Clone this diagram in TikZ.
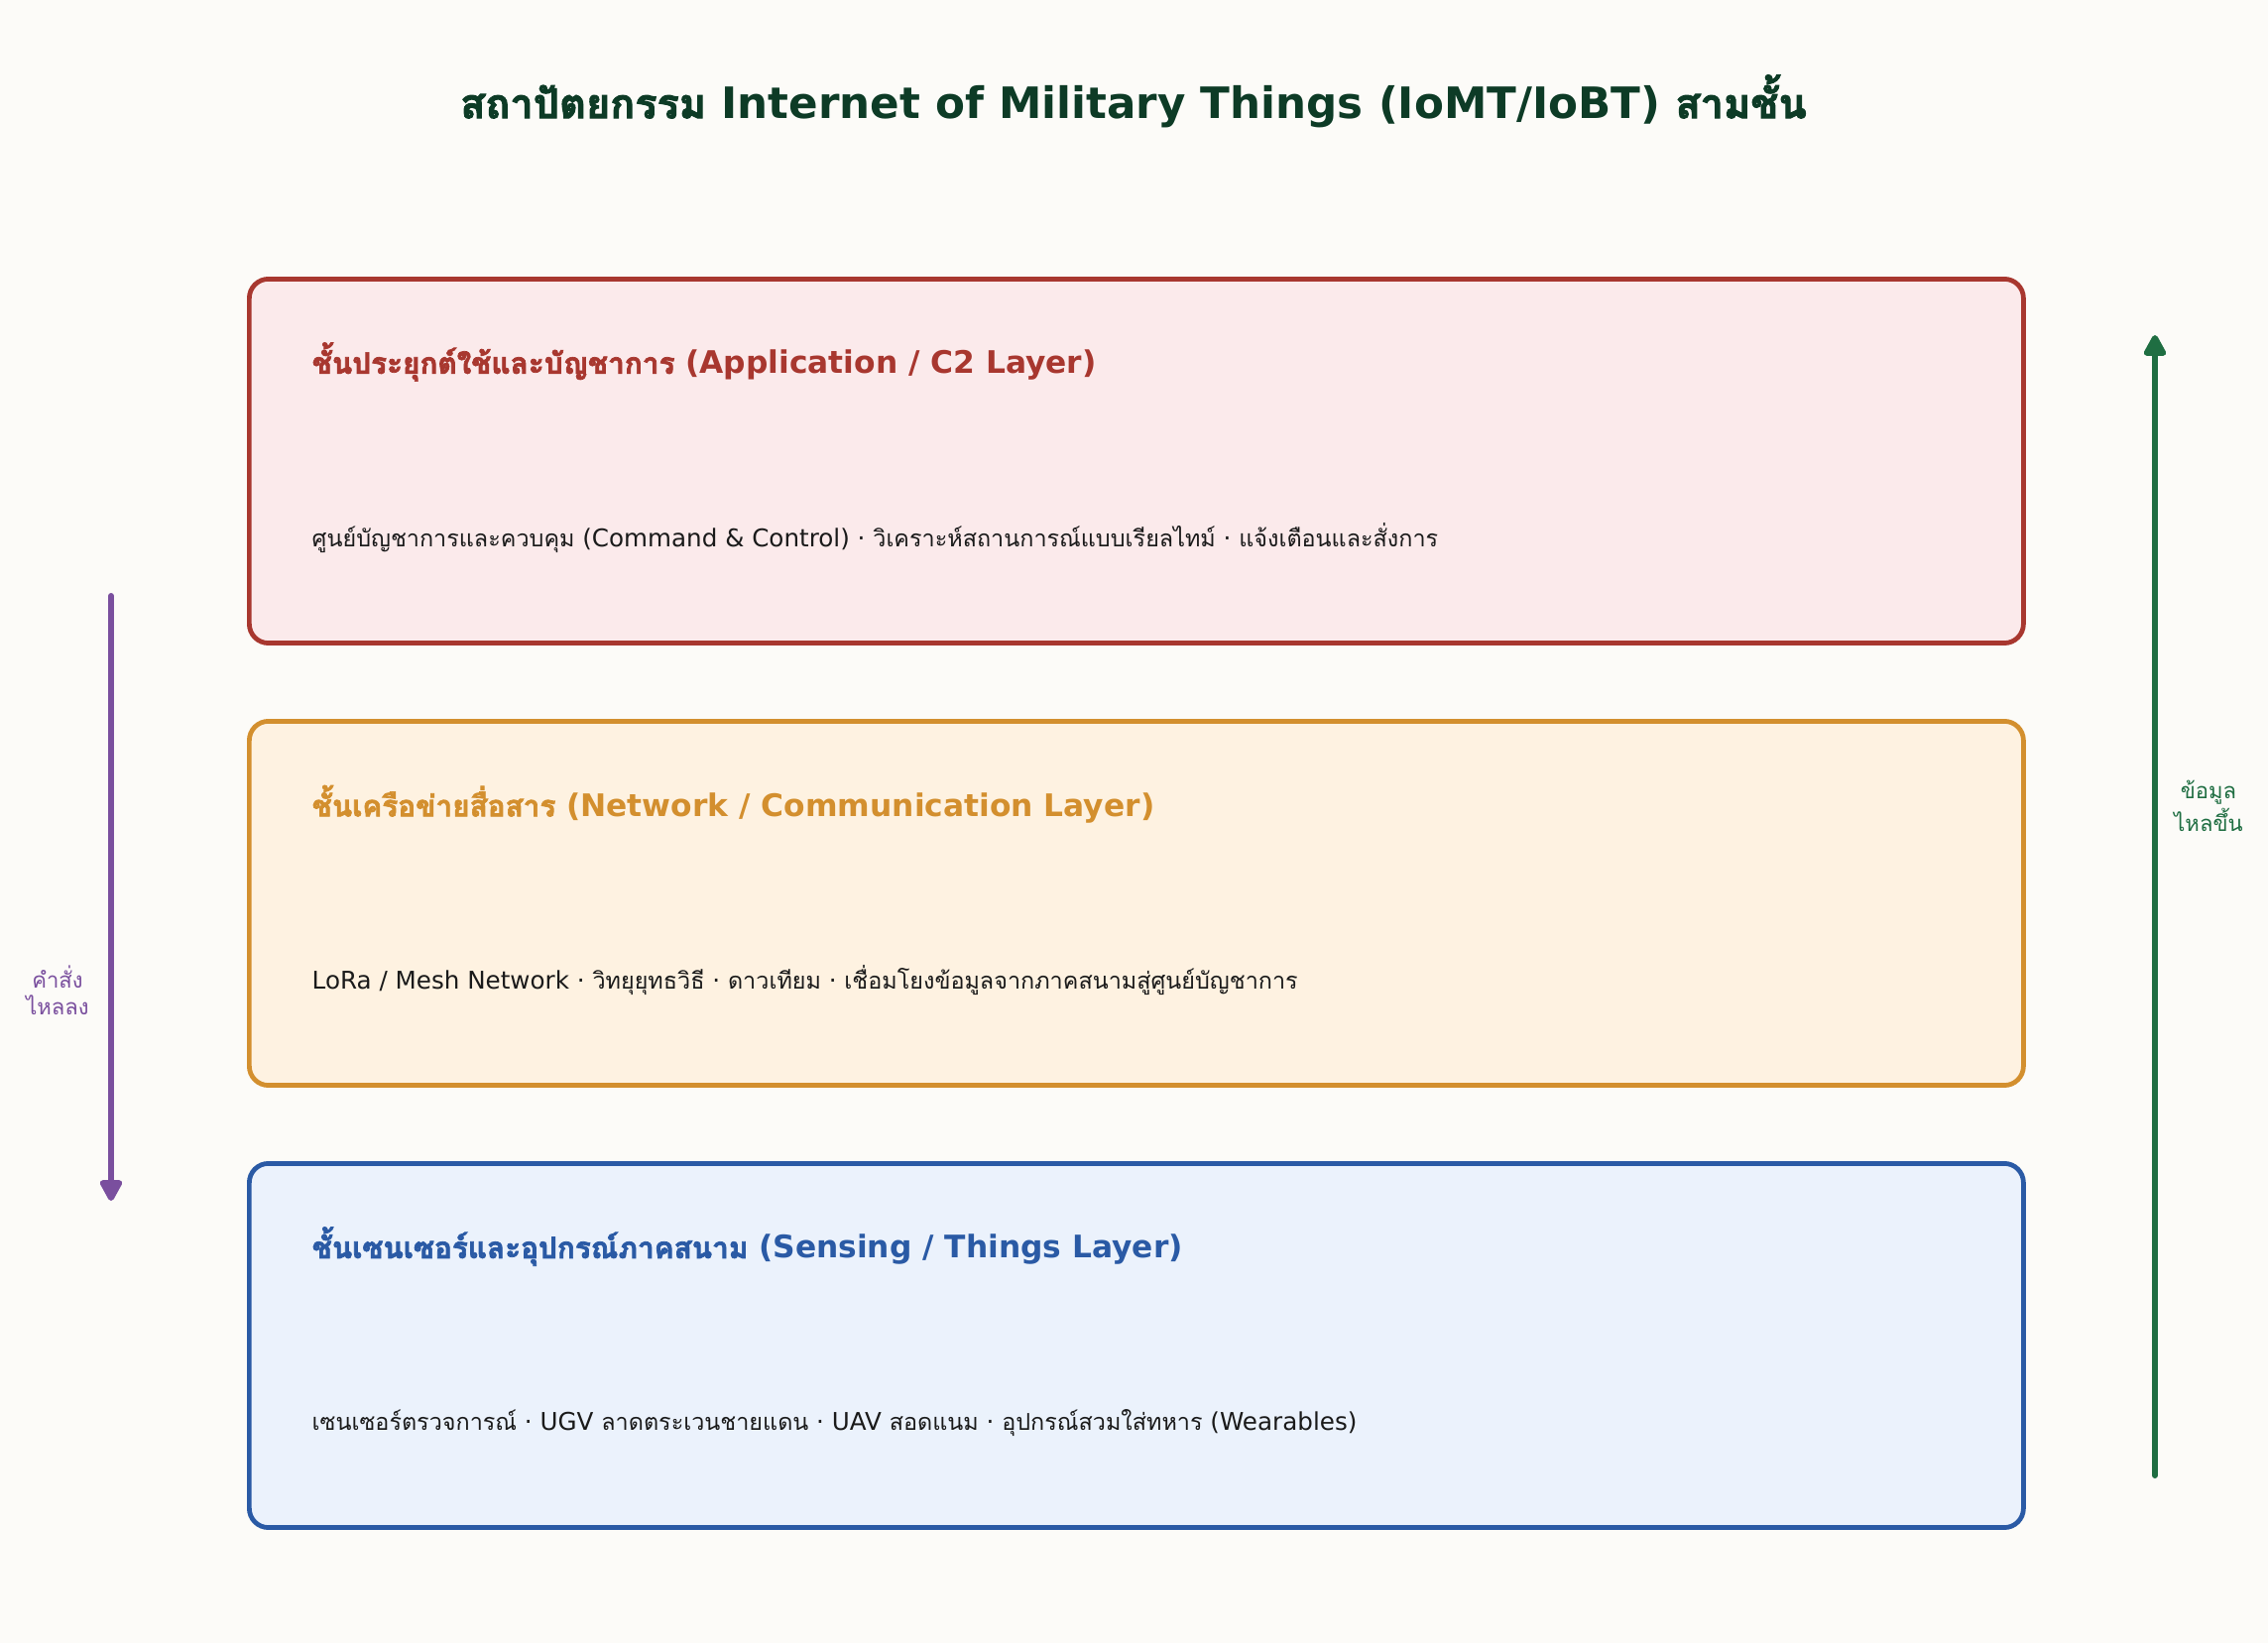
\documentclass[tikz,border=0pt]{standalone}
\usepackage{fontspec}
\setmainfont{DejaVu Sans}
\newfontfamily\thaifont[Script=Thai,Scale=0.95]{Loma}
\newfontfamily\thaibold[Script=Thai,Scale=0.95,FakeBold=2.4]{Loma}
\newcommand{\thw}[1]{{\thaifont #1}}
\newcommand{\thb}[1]{{\thaibold #1}}
\usetikzlibrary{arrows.meta}

\definecolor{bgpaper}{HTML}{FCFBF8}
\definecolor{titlegreen}{HTML}{0D3B26}
\definecolor{appred}{HTML}{A8372F}
\definecolor{appfill}{HTML}{FBEAEB}
\definecolor{netorange}{HTML}{D38F2E}
\definecolor{netfill}{HTML}{FEF2E1}
\definecolor{senseblue}{HTML}{2A5AA5}
\definecolor{sensefill}{HTML}{EBF2FC}
\definecolor{cmdpurple}{HTML}{7A4F9E}
\definecolor{datagreen}{HTML}{1F6E42}
\definecolor{bodytext}{HTML}{1A1A1A}

\begin{document}
\begin{tikzpicture}[x=0.01cm,y=-0.01cm,
    layer/.style={draw=#1, line width=1.35pt, rounded corners=5.5pt,
        minimum width=17.88cm, minimum height=3.67cm, anchor=north west},
    layertitle/.style={anchor=west, inner sep=0pt, text=#1, font=\fontsize{8.9}{10.5}\selectfont\bfseries},
    layerbody/.style={anchor=west, inner sep=0pt, text=bodytext, font=\fontsize{7}{8.5}\selectfont},
    flow/.style={draw=#1, line width=1.7pt, line cap=round,
        -{Triangle[length=7pt,width=7pt,round]}},
    flowlabel/.style={text=#1, align=center, font=\fontsize{6.6}{7.6}\selectfont}]

    \fill[bgpaper] (0,0) rectangle (2287,1657);

    \node[text=titlegreen, font=\fontsize{12.4}{14}\selectfont\bfseries] (title) at (1143,102)
        {\thb{สถาปัตยกรรม} Internet of Military Things (IoMT/IoBT) \thb{สามชั้น}};

    % three layers, top to bottom
    \node[layer=appred, fill=appfill] (app) at (249,279) {};
    \node[layer=netorange, fill=netfill] (net) at (249,725) {};
    \node[layer=senseblue, fill=sensefill] (sense) at (249,1171) {};

    \node[layertitle=appred] (apptitle) at (314,365)
        {\thb{ชั้นประยุกต์ใช้และบัญชาการ} (Application / C2 Layer)};
    \node[layerbody] (appbody) at (314,543)
        {\thw{ศูนย์บัญชาการและควบคุม} (Command \& Control) · \thw{วิเคราะห์สถานการณ์แบบเรียลไทม์} · \thw{แจ้งเตือนและสั่งการ}};

    \node[layertitle=netorange] (nettitle) at (314,811)
        {\thb{ชั้นเครือข่ายสื่อสาร} (Network / Communication Layer)};
    \node[layerbody] (netbody) at (314,989)
        {LoRa / Mesh Network · \thw{วิทยุยุทธวิธี} · \thw{ดาวเทียม} · \thw{เชื่อมโยงข้อมูลจากภาคสนามสู่ศูนย์บัญชาการ}};

    \node[layertitle=senseblue] (sensetitle) at (314,1257)
        {\thb{ชั้นเซนเซอร์และอุปกรณ์ภาคสนาม} (Sensing / Things Layer)};
    \node[layerbody] (sensebody) at (314,1435)
        {\thw{เซนเซอร์ตรวจการณ์} · UGV \thw{ลาดตระเวนชายแดน} · UAV \thw{สอดแนม} · \thw{อุปกรณ์สวมใส่ทหาร} (Wearables)};

    % flows at the sides
    \coordinate (cmdtop) at (112,601);
    \coordinate (cmdend) at (112,1211);
    \coordinate (datalow) at (2173,1488);
    \coordinate (datatop) at (2173,338);

    \draw[flow=cmdpurple] (cmdtop) -- (cmdend);
    \draw[flow=datagreen] (datalow) -- (datatop);

    \node[flowlabel=cmdpurple] (cmdlabel) at (58,999) {\thw{คำสั่ง}\\\thw{ไหลลง}};
    \node[flowlabel=datagreen] (datalabel) at (2227,813) {\thw{ข้อมูล}\\\thw{ไหลขึ้น}};
\end{tikzpicture}
\end{document}
